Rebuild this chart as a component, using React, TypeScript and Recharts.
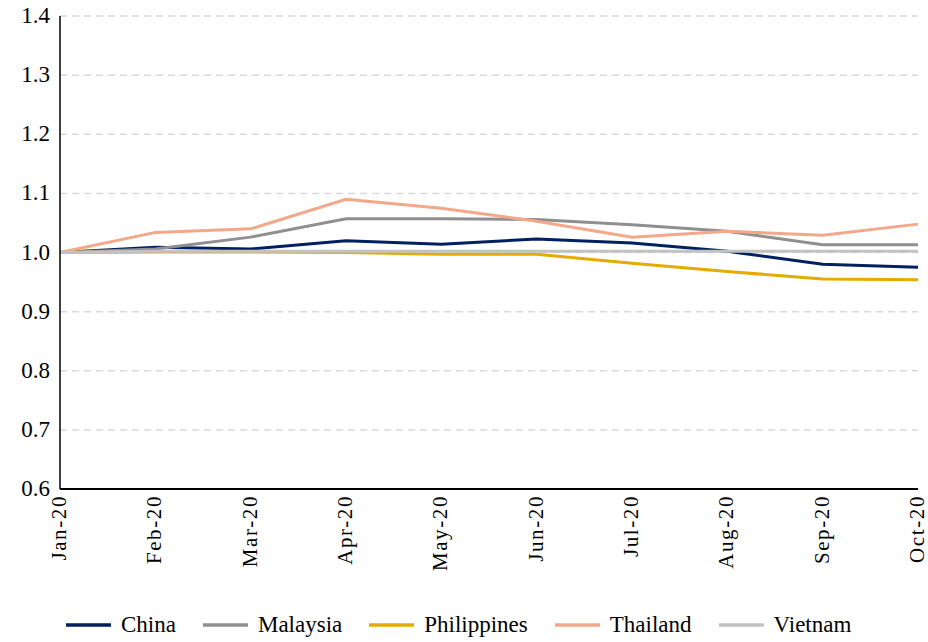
import React from "react";
import { LineChart, Line, XAxis, YAxis, CartesianGrid, Legend } from "recharts";

const months = ["Jan-20", "Feb-20", "Mar-20", "Apr-20", "May-20", "Jun-20", "Jul-20", "Aug-20", "Sep-20", "Oct-20"];
const china = [1.0, 1.009, 1.006, 1.02, 1.014, 1.023, 1.016, 1.002, 0.98, 0.975];
const malaysia = [1.0, 1.006, 1.026, 1.057, 1.057, 1.056, 1.047, 1.036, 1.013, 1.013];
const philippines = [1.0, 1.001, 1.001, 1.0, 0.997, 0.997, 0.982, 0.968, 0.955, 0.954];
const thailand = [1.0, 1.034, 1.04, 1.09, 1.075, 1.053, 1.026, 1.036, 1.029, 1.048];
const vietnam = [1.0, 1.002, 1.002, 1.002, 1.002, 1.002, 1.002, 1.002, 1.002, 1.002];
const yTicks = [0.6, 0.7, 0.8, 0.9, 1.0, 1.1, 1.2, 1.3, 1.4];

const series = [
  { key: "china", name: "China", color: "#002060" },
  { key: "malaysia", name: "Malaysia", color: "#8f8f8f" },
  { key: "philippines", name: "Philippines", color: "#e5ab00" },
  { key: "thailand", name: "Thailand", color: "#f3a88a" },
  { key: "vietnam", name: "Vietnam", color: "#c2c2c2" },
];

const data = months.map((m, i) => ({
  month: m,
  china: china[i],
  malaysia: malaysia[i],
  philippines: philippines[i],
  thailand: thailand[i],
  vietnam: vietnam[i],
}));

const FONT = "'Liberation Serif', serif";

const MonthTick = (props: any) => {
  const { x, y, payload } = props;
  return (
    <text
      x={0}
      y={0}
      transform={`translate(${x + 6},${y - 2}) rotate(-90)`}
      textAnchor="end"
      fontFamily={FONT}
      fontSize={21}
      fill="#000"
      letterSpacing={1.6}
    >
      {payload.value}
    </text>
  );
};

const ValueTick = (props: any) => {
  const { x, y, payload } = props;
  return (
    <text
      x={x - 2}
      y={y}
      dy={7}
      textAnchor="end"
      fontFamily={FONT}
      fontSize={23}
      fill="#000"
    >
      {Number(payload.value).toFixed(1)}
    </text>
  );
};

const SeriesLegend = () => (
  <div
    style={{
      display: "flex",
      justifyContent: "flex-start",
      paddingLeft: 66,
      gap: 27,
      fontFamily: FONT,
      fontSize: 23,
      color: "#000",
    }}
  >
    {series.map((s) => (
      <div key={s.key} style={{ display: "flex", alignItems: "center" }}>
        <svg width={45} height={6} style={{ marginRight: 10 }}>
          <line x1={0} y1={3} x2={45} y2={3} stroke={s.color} strokeWidth={3.5} />
        </svg>
        <span>{s.name}</span>
      </div>
    ))}
  </div>
);

export default function App() {
  return (
    <div style={{ position: "absolute", left: 0, top: 0, background: "#fff", fontFamily: FONT }}>
      <LineChart
        width={928}
        height={642}
        data={data}
        margin={{ top: 16, right: 10, bottom: 4, left: 0 }}
      >
        <CartesianGrid
          vertical={false}
          stroke="#d9d9d9"
          strokeDasharray="7 5"
          strokeWidth={1.5}
        />
        <XAxis
          dataKey="month"
          interval={0}
          tick={<MonthTick />}
          tickLine={false}
          axisLine={{ stroke: "#000", strokeWidth: 2 }}
          height={123}
        />
        <YAxis
          domain={[0.6, 1.4]}
          ticks={yTicks}
          tick={<ValueTick />}
          tickLine={false}
          axisLine={{ stroke: "#000", strokeWidth: 1.5 }}
          width={60}
          interval={0}
        />
        <Legend verticalAlign="bottom" content={<SeriesLegend />} />
        {series.map((s) => (
          <Line
            key={s.key}
            dataKey={s.key}
            name={s.name}
            stroke={s.color}
            strokeWidth={3}
            dot={false}
            type="linear"
            isAnimationActive={false}
          />
        ))}
      </LineChart>
    </div>
  );
}
